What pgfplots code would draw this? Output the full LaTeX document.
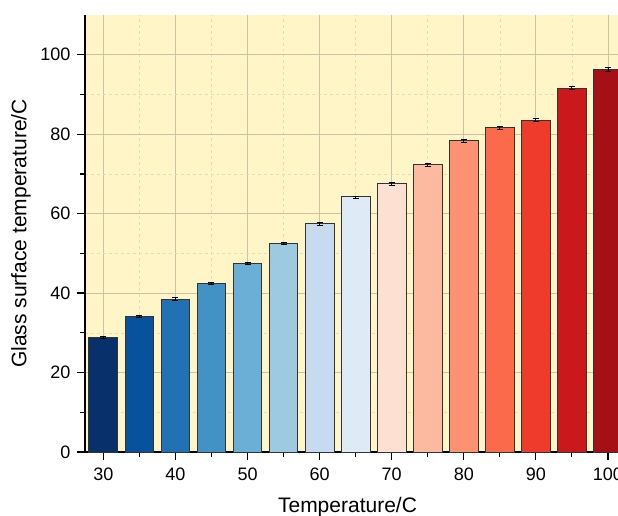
\documentclass[border=0pt]{standalone}
\usepackage{pgfplots}
\pgfplotsset{compat=1.18}
\usepackage{fontspec}
\setmainfont{Liberation Sans}
\definecolor{c1}{HTML}{08306B}
\definecolor{c2}{HTML}{08519C}
\definecolor{c3}{HTML}{2171B5}
\definecolor{c4}{HTML}{4292C6}
\definecolor{c5}{HTML}{6BAED6}
\definecolor{c6}{HTML}{9ECAE1}
\definecolor{c7}{HTML}{C6DBEF}
\definecolor{c8}{HTML}{DEEBF7}
\definecolor{c9}{HTML}{FEE0D2}
\definecolor{c10}{HTML}{FCBBA1}
\definecolor{c11}{HTML}{FC9272}
\definecolor{c12}{HTML}{FB6A4A}
\definecolor{c13}{HTML}{EF3B2C}
\definecolor{c14}{HTML}{CB181D}
\definecolor{c15}{HTML}{A50F15}
\definecolor{bgyellow}{HTML}{FFF5C6}
\definecolor{gridmaj}{HTML}{C8C2A6}
\definecolor{gridmin}{HTML}{E2DCBC}
\pgfplotsset{
  mybar/.style={ybar, bar width=4, bar shift=0pt, fill=#1, draw=black!80, line width=1bp,
    error bars/.cd, y dir=both, y explicit,
    error bar style={black, line width=0.8bp},
    error mark options={rotate=90, mark size=3bp, line width=0.8bp, black}}
}
\begin{document}
\begin{tikzpicture}
\begin{axis}[
  scale only axis,
  width=533bp, height=437bp,
  xmin=27.45, xmax=101.4,
  ymin=0, ymax=110,
  axis x line*=bottom, axis y line*=left,
  axis line style={line width=1.5bp, black},
  xtick={30,40,50,60,70,80,90,100},
  ytick={0,20,40,60,80,100},
  minor x tick num=1, minor y tick num=1,
  tick align=outside,
  major tick length=8bp, minor tick length=5bp,
  tick style={line width=1.2bp, black},
  grid=both,
  major grid style={solid, line width=0.8bp, color=gridmaj},
  minor grid style={dashed, line width=0.6bp, color=gridmin},
  axis background/.style={fill=bgyellow},
  /pgf/number format/assume math mode=true,
  ticklabel style={font=\fontsize{18bp}{20bp}\selectfont},
  xticklabel style={yshift=-4bp},
  yticklabel style={xshift=-3bp},
  xlabel={Temperature/C},
  ylabel={Glass surface temperature/C},
  label style={font=\fontsize{21bp}{24bp}\selectfont},
  xlabel style={at={(axis description cs:0.4925,-0.1259)}, anchor=center},
  ylabel style={at={(axis description cs:-0.1201,0.5)}, anchor=center},
]
\addplot[mybar=c1] coordinates {(30,28.8) +- (0,0.25)};
\addplot[mybar=c2] coordinates {(35,34.2) +- (0,0.3)};
\addplot[mybar=c3] coordinates {(40,38.5) +- (0,0.3)};
\addplot[mybar=c4] coordinates {(45,42.5) +- (0,0.25)};
\addplot[mybar=c5] coordinates {(50,47.5) +- (0,0.3)};
\addplot[mybar=c6] coordinates {(55,52.6) +- (0,0.25)};
\addplot[mybar=c7] coordinates {(60,57.4) +- (0,0.3)};
\addplot[mybar=c8] coordinates {(65,64.2) +- (0,0.25)};
\addplot[mybar=c9] coordinates {(70,67.5) +- (0,0.3)};
\addplot[mybar=c10] coordinates {(75,72.3) +- (0,0.35)};
\addplot[mybar=c11] coordinates {(80,78.4) +- (0,0.4)};
\addplot[mybar=c12] coordinates {(85,81.6) +- (0,0.4)};
\addplot[mybar=c13] coordinates {(90,83.5) +- (0,0.4)};
\addplot[mybar=c14] coordinates {(95,91.6) +- (0,0.4)};
\addplot[mybar=c15] coordinates {(100,96.3) +- (0,0.4)};
\end{axis}
\pgfresetboundingbox
\path[use as bounding box] ([xshift=-85bp,yshift=-64bp]current axis.south west) rectangle ([yshift=15bp]current axis.north east);
\end{tikzpicture}
\end{document}
